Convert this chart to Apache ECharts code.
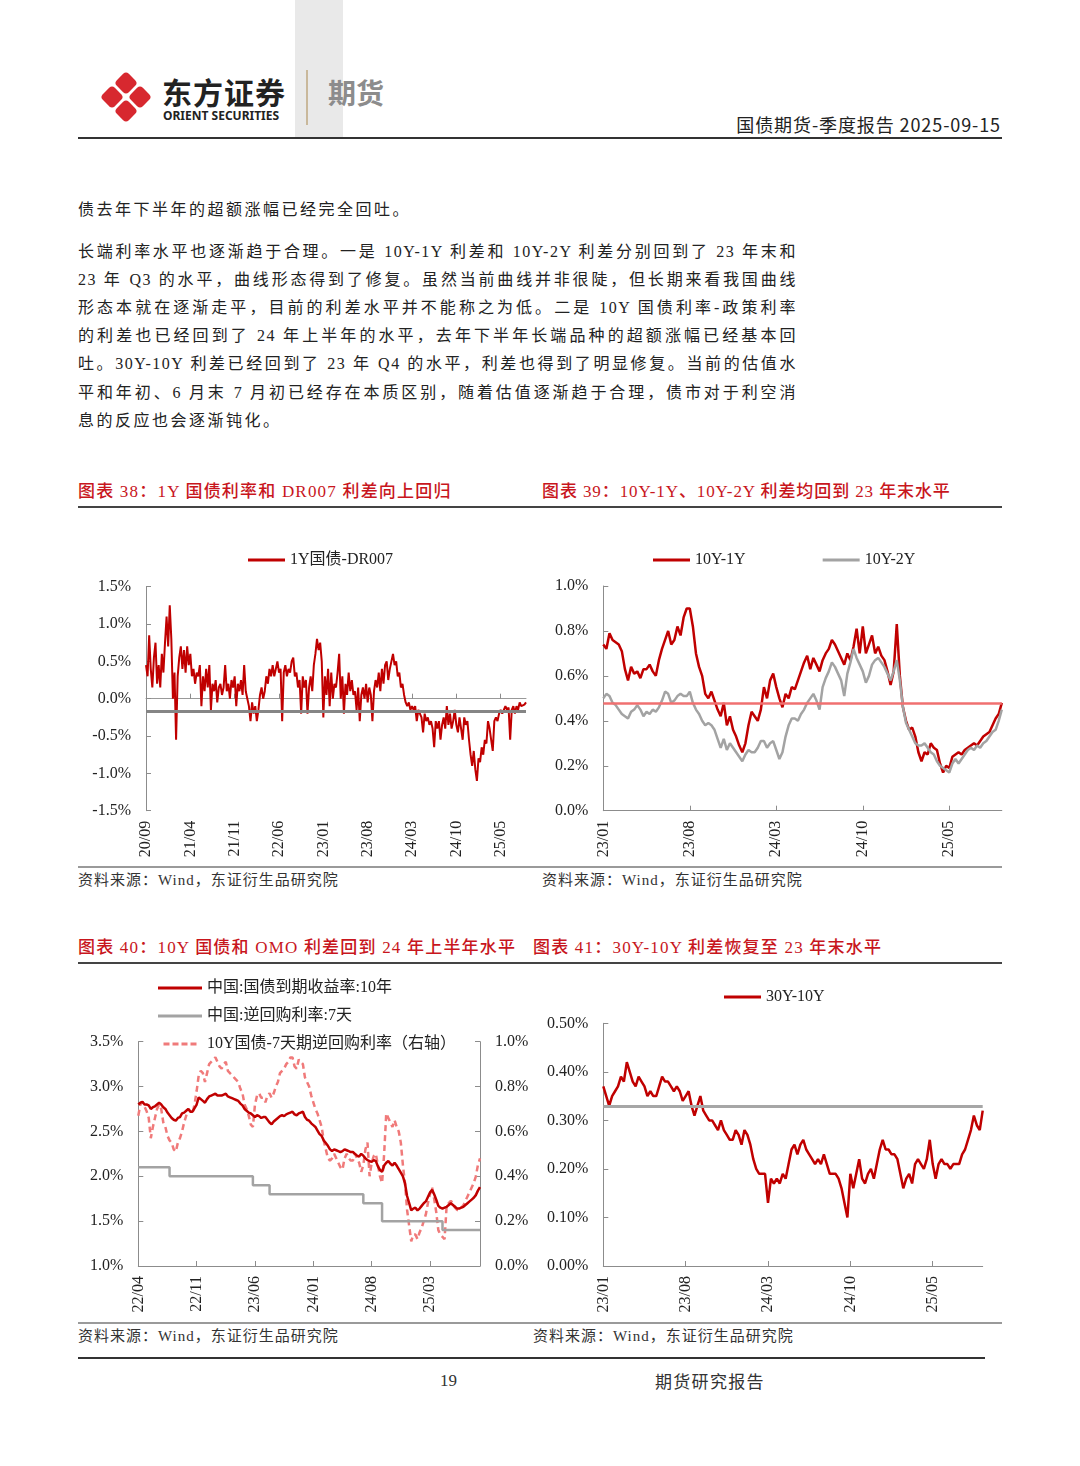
<!DOCTYPE html>
<html><head><meta charset="utf-8">
<script src="https://cdn.jsdelivr.net/npm/echarts@6/dist/echarts.min.js"></script>
<style>
body{margin:0;background:#fff;}
#page{position:relative;width:1080px;height:1466px;overflow:hidden;font-family:"Liberation Serif","Noto Sans CJK SC",serif;color:#222;}
.a{position:absolute;white-space:nowrap;}
.ln{position:absolute;left:78px;width:719px;height:28px;line-height:28px;font-size:16px;letter-spacing:1.5px;text-align:justify;text-align-last:justify;white-space:nowrap;}
.ln.l{text-align:left;text-align-last:left;letter-spacing:2.5px;}
.tt{position:absolute;font-size:17px;line-height:22px;color:#c8161d;font-weight:500;letter-spacing:1.2px;white-space:nowrap;font-family:"Liberation Serif","Noto Sans CJK SC",serif;}
.src{position:absolute;font-size:15px;line-height:20px;color:#333;letter-spacing:1px;white-space:nowrap;}
.hr{position:absolute;}
.ch{position:absolute;}
</style></head>
<body><div id="page">
<div class="a" style="left:295px;top:0;width:48px;height:137px;background:#e9e9e9;"></div>
<svg class="a" style="left:98px;top:69px" width="56" height="56" viewBox="0 0 56 56">
 <g fill="#d7282f">
  <rect x="-8.5" y="-8.5" width="17" height="17" rx="4" transform="translate(28,14) rotate(45)"/>
  <rect x="-8.5" y="-8.5" width="17" height="17" rx="4" transform="translate(14,28) rotate(45)"/>
  <rect x="-8.5" y="-8.5" width="17" height="17" rx="4" transform="translate(42,28) rotate(45)"/>
  <rect x="-8.5" y="-8.5" width="17" height="17" rx="4" transform="translate(28,42) rotate(45)"/>
 </g>
</svg>
<div class="a" style="left:162px;top:72px;font-family:'Noto Sans CJK SC';font-weight:700;font-size:30px;line-height:38px;color:#222;letter-spacing:1px;">东方证券</div>
<div class="a" style="left:163px;top:108px;font-family:'Noto Sans';font-weight:700;font-size:12px;line-height:16px;color:#222;">ORIENT SECURITIES</div>
<div class="a" style="left:306px;top:70px;width:1.5px;height:55px;background:#c9b89b;"></div>
<div class="a" style="left:328px;top:74px;font-family:'Noto Sans CJK SC';font-weight:700;font-size:28px;line-height:36px;color:#8c8c8c;">期货</div>
<div class="a" style="right:79px;top:112px;font-family:'Noto Sans CJK SC';font-size:18px;line-height:24px;color:#222;letter-spacing:0.9px;">国债期货-季度报告 2025-09-15</div>
<div class="hr" style="left:78px;top:137px;width:924px;height:2px;background:#333;"></div>

<div class="ln l" style="top:196px;">债去年下半年的超额涨幅已经完全回吐。</div>
<div class="ln" style="top:238px;">长端利率水平也逐渐趋于合理。一是 10Y-1Y 利差和 10Y-2Y 利差分别回到了 23 年末和</div>
<div class="ln" style="top:266px;">23 年 Q3 的水平，曲线形态得到了修复。虽然当前曲线并非很陡，但长期来看我国曲线</div>
<div class="ln" style="top:294px;">形态本就在逐渐走平，目前的利差水平并不能称之为低。二是 10Y 国债利率-政策利率</div>
<div class="ln" style="top:322px;">的利差也已经回到了 24 年上半年的水平，去年下半年长端品种的超额涨幅已经基本回</div>
<div class="ln" style="top:350px;">吐。30Y-10Y 利差已经回到了 23 年 Q4 的水平，利差也得到了明显修复。当前的估值水</div>
<div class="ln" style="top:379px;">平和年初、6 月末 7 月初已经存在本质区别，随着估值逐渐趋于合理，债市对于利空消</div>
<div class="ln l" style="top:407px;">息的反应也会逐渐钝化。</div>

<div class="tt" style="left:78px;top:481px;">图表 38：1Y 国债利率和 DR007 利差向上回归</div>
<div class="tt" style="left:542px;top:481px;letter-spacing:0.9px;">图表 39：10Y-1Y、10Y-2Y 利差均回到 23 年末水平</div>
<div class="hr" style="left:78px;top:506px;width:924px;height:1.5px;background:#444;"></div>
<div class="hr" style="left:78px;top:866px;width:924px;height:2px;background:#9a9a9a;"></div>
<div class="src" style="left:78px;top:870px;">资料来源：Wind，东证衍生品研究院</div>
<div class="src" style="left:542px;top:870px;">资料来源：Wind，东证衍生品研究院</div>

<div class="tt" style="left:78px;top:937px;">图表 40：10Y 国债和 OMO 利差回到 24 年上半年水平</div>
<div class="tt" style="left:533px;top:937px;">图表 41：30Y-10Y 利差恢复至 23 年末水平</div>
<div class="hr" style="left:78px;top:962px;width:924px;height:1.5px;background:#444;"></div>
<div class="hr" style="left:78px;top:1322px;width:924px;height:2px;background:#9a9a9a;"></div>
<div class="src" style="left:78px;top:1326px;">资料来源：Wind，东证衍生品研究院</div>
<div class="src" style="left:533px;top:1326px;">资料来源：Wind，东证衍生品研究院</div>

<div class="hr" style="left:78px;top:1357px;width:907px;height:1.5px;background:#333;"></div>
<div class="a" style="left:440px;top:1370px;font-size:17px;line-height:22px;color:#333;">19</div>
<div class="a" style="left:655px;top:1370px;font-size:17px;line-height:22px;color:#333;letter-spacing:1.3px;font-family:'Noto Sans CJK SC';">期货研究报告</div>

<div id="c38" class="ch" style="left:75px;top:540px;width:470px;height:330px;"></div>
<div id="c39" class="ch" style="left:540px;top:540px;width:470px;height:330px;"></div>
<div id="c40" class="ch" style="left:75px;top:970px;width:470px;height:352px;"></div>
<div id="c41" class="ch" style="left:530px;top:970px;width:480px;height:352px;"></div>
</div>
<script>
// ---------- data ----------
const s38 = [0.45,0.30,0.85,0.40,0.15,0.55,0.75,0.20,0.45,0.15,
0.60,0.35,0.75,1.10,0.70,1.25,0.80,0.00,0.35,-0.55,
0.30,0.55,0.70,0.40,0.65,0.35,0.70,0.45,0.60,0.30,
0.40,0.20,0.35,0.30,0.45,-0.10,0.30,0.10,0.40,0.15,
0.45,-0.15,0.20,0.10,0.25,-0.05,0.15,0.20,0.05,0.15,
0.45,0.10,0.20,0.00,0.25,0.15,0.30,-0.10,0.20,0.10,
0.25,0.05,0.45,0.10,0.00,-0.10,-0.30,-0.05,-0.20,-0.10,
-0.30,-0.15,0.05,0.15,0.00,0.10,0.30,0.20,0.40,0.30,
0.45,0.30,0.40,0.50,0.35,0.40,-0.30,0.35,0.45,0.30,
0.40,0.35,0.50,0.55,0.30,0.35,0.15,0.25,-0.20,0.30,
0.15,0.25,-0.20,0.15,0.30,0.10,0.45,0.60,0.80,0.65,
0.75,0.50,-0.25,0.30,0.05,0.40,-0.10,0.35,0.00,0.20,
0.15,0.35,0.60,0.00,0.30,-0.20,0.20,0.05,0.35,0.10,
0.25,0.05,0.10,-0.15,0.15,-0.30,0.05,0.15,0.00,0.20,
-0.05,0.15,0.05,-0.30,0.10,0.25,0.15,0.35,0.10,0.40,
0.20,0.45,0.50,0.25,0.40,0.50,0.60,0.45,0.50,0.30,
0.35,0.15,0.20,0.05,-0.05,-0.10,-0.05,-0.15,-0.10,-0.15,
-0.10,-0.30,-0.15,-0.20,-0.25,-0.45,-0.20,-0.30,-0.25,-0.35,
-0.30,-0.40,-0.65,-0.30,-0.40,-0.30,-0.55,-0.35,-0.25,-0.40,
-0.10,-0.35,-0.20,-0.40,-0.30,-0.15,-0.35,-0.45,-0.25,-0.40,
-0.55,-0.25,-0.35,-0.30,-0.55,-0.75,-0.90,-0.70,-0.95,-1.10,
-0.80,-0.85,-0.65,-0.75,-0.55,-0.60,-0.30,-0.40,-0.55,-0.70,
-0.30,-0.25,-0.30,-0.20,-0.15,-0.20,-0.15,-0.10,-0.15,-0.12,
-0.55,-0.15,-0.10,-0.20,-0.10,-0.15,-0.05,-0.10,-0.12,-0.08,
-0.05];
const ref38 = -0.17;

const s39a = [0.74,0.72,0.79,0.76,0.75,0.74,0.71,0.63,0.58,0.64,
0.61,0.62,0.59,0.63,0.63,0.65,0.62,0.60,0.67,0.72,
0.76,0.80,0.74,0.76,0.82,0.78,0.86,0.90,0.90,0.82,
0.70,0.64,0.60,0.52,0.50,0.53,0.49,0.45,0.42,0.48,
0.38,0.42,0.36,0.33,0.29,0.26,0.30,0.38,0.44,0.42,
0.40,0.45,0.55,0.50,0.58,0.61,0.55,0.50,0.46,0.52,
0.50,0.55,0.54,0.58,0.62,0.66,0.69,0.63,0.68,0.65,
0.62,0.67,0.70,0.72,0.76,0.74,0.71,0.68,0.65,0.70,
0.67,0.73,0.81,0.70,0.82,0.70,0.74,0.78,0.70,0.73,
0.69,0.67,0.62,0.56,0.62,0.83,0.60,0.46,0.40,0.36,
0.37,0.33,0.26,0.22,0.26,0.25,0.30,0.28,0.27,0.21,
0.17,0.20,0.19,0.24,0.25,0.26,0.25,0.27,0.28,0.29,
0.30,0.29,0.31,0.33,0.34,0.35,0.38,0.41,0.43,0.48];
const s39b = [0.50,0.52,0.51,0.48,0.47,0.45,0.43,0.42,0.41,0.44,
0.45,0.47,0.45,0.42,0.44,0.43,0.45,0.44,0.46,0.49,
0.53,0.52,0.48,0.49,0.51,0.52,0.51,0.51,0.53,0.48,
0.45,0.43,0.40,0.38,0.39,0.38,0.36,0.32,0.28,0.32,
0.27,0.30,0.28,0.26,0.24,0.22,0.25,0.27,0.26,0.26,
0.28,0.31,0.31,0.28,0.30,0.31,0.27,0.23,0.26,0.33,
0.38,0.41,0.41,0.40,0.43,0.45,0.48,0.50,0.52,0.49,
0.45,0.55,0.59,0.62,0.66,0.64,0.61,0.58,0.51,0.61,
0.66,0.72,0.68,0.65,0.62,0.57,0.60,0.65,0.67,0.68,
0.66,0.64,0.61,0.58,0.62,0.67,0.58,0.46,0.39,0.36,
0.33,0.30,0.29,0.29,0.30,0.28,0.26,0.25,0.22,0.20,
0.19,0.18,0.17,0.21,0.23,0.21,0.23,0.25,0.27,0.28,
0.27,0.29,0.28,0.30,0.31,0.33,0.35,0.36,0.40,0.45];
const ref39 = 0.48;

const s40y = [2.80,2.82,2.83,2.80,2.80,2.79,2.75,2.77,2.78,2.80,
2.82,2.80,2.77,2.75,2.71,2.68,2.65,2.63,2.62,2.65,
2.66,2.70,2.71,2.73,2.75,2.72,2.72,2.76,2.80,2.88,
2.86,2.84,2.82,2.86,2.89,2.90,2.91,2.92,2.90,2.90,
2.90,2.91,2.92,2.89,2.88,2.87,2.86,2.85,2.84,2.81,
2.79,2.75,2.73,2.71,2.70,2.68,2.66,2.68,2.67,2.65,
2.66,2.66,2.63,2.60,2.58,2.61,2.63,2.65,2.67,2.68,
2.67,2.69,2.70,2.71,2.72,2.69,2.68,2.70,2.71,2.72,
2.66,2.63,2.62,2.59,2.57,2.55,2.51,2.47,2.45,2.40,
2.37,2.34,2.30,2.28,2.30,2.29,2.28,2.27,2.28,2.30,
2.29,2.28,2.27,2.27,2.25,2.23,2.22,2.25,2.23,2.20,
2.18,2.17,2.16,2.18,2.17,2.11,2.07,2.05,2.12,2.15,
2.17,2.14,2.12,2.15,2.12,2.08,2.04,2.00,1.92,1.78,
1.70,1.62,1.64,1.65,1.62,1.64,1.67,1.70,1.72,1.77,
1.82,1.85,1.80,1.74,1.67,1.65,1.64,1.65,1.66,1.68,
1.70,1.68,1.66,1.64,1.64,1.65,1.66,1.68,1.70,1.72,
1.74,1.76,1.79,1.84,1.88];
const s40r = [2.10,2.10,2.10,2.10,2.10,2.10,2.10,2.10,2.10,2.10,
2.10,2.10,2.10,2.10,2.10,2.10,2.00,2.00,2.00,2.00,
2.00,2.00,2.00,2.00,2.00,2.00,2.00,2.00,2.00,2.00,
2.00,2.00,2.00,2.00,2.00,2.00,2.00,2.00,2.00,2.00,
2.00,2.00,2.00,2.00,2.00,2.00,2.00,2.00,2.00,2.00,
2.00,2.00,2.00,2.00,2.00,2.00,1.90,1.90,1.90,1.90,
1.90,1.90,1.90,1.90,1.80,1.80,1.80,1.80,1.80,1.80,
1.80,1.80,1.80,1.80,1.80,1.80,1.80,1.80,1.80,1.80,
1.80,1.80,1.80,1.80,1.80,1.80,1.80,1.80,1.80,1.80,
1.80,1.80,1.80,1.80,1.80,1.80,1.80,1.80,1.80,1.80,
1.80,1.80,1.80,1.80,1.80,1.80,1.80,1.80,1.80,1.70,
1.70,1.70,1.70,1.70,1.70,1.70,1.70,1.70,1.50,1.50,
1.50,1.50,1.50,1.50,1.50,1.50,1.50,1.50,1.50,1.50,
1.50,1.50,1.50,1.50,1.50,1.50,1.50,1.50,1.50,1.50,
1.50,1.50,1.50,1.50,1.50,1.50,1.50,1.40,1.40,1.40,
1.40,1.40,1.40,1.40,1.40,1.40,1.40,1.40,1.40,1.40,
1.40,1.40,1.40,1.40,1.40];
const s40s = [0.67,0.72,0.73,0.71,0.69,0.66,0.57,0.62,0.66,0.70,
0.72,0.70,0.64,0.62,0.58,0.56,0.55,0.52,0.51,0.55,
0.57,0.60,0.64,0.67,0.70,0.69,0.68,0.72,0.78,0.85,
0.87,0.86,0.82,0.86,0.90,0.91,0.92,0.93,0.91,0.89,
0.88,0.90,0.91,0.87,0.86,0.85,0.84,0.83,0.82,0.79,
0.77,0.72,0.70,0.67,0.63,0.62,0.72,0.76,0.77,0.75,
0.75,0.73,0.76,0.77,0.75,0.77,0.80,0.82,0.86,0.87,
0.88,0.90,0.91,0.93,0.93,0.89,0.88,0.92,0.91,0.90,
0.84,0.82,0.80,0.76,0.73,0.70,0.68,0.65,0.62,0.56,
0.52,0.48,0.47,0.48,0.50,0.48,0.46,0.44,0.43,0.48,
0.50,0.48,0.47,0.47,0.50,0.48,0.46,0.42,0.45,0.52,
0.55,0.40,0.46,0.49,0.50,0.45,0.40,0.37,0.50,0.68,
0.66,0.64,0.62,0.65,0.62,0.60,0.55,0.45,0.37,0.25,
0.18,0.11,0.14,0.14,0.12,0.15,0.17,0.20,0.23,0.28,
0.32,0.35,0.30,0.24,0.16,0.14,0.13,0.12,0.27,0.28,
0.29,0.28,0.26,0.25,0.25,0.26,0.27,0.29,0.31,0.33,
0.35,0.37,0.40,0.45,0.48];

const s41 = [0.37,0.35,0.33,0.35,0.36,0.37,0.39,0.38,0.42,0.40,
0.38,0.37,0.39,0.38,0.37,0.35,0.36,0.35,0.35,0.37,
0.39,0.38,0.38,0.37,0.36,0.37,0.36,0.34,0.35,0.36,
0.33,0.31,0.33,0.35,0.32,0.31,0.30,0.30,0.29,0.28,
0.30,0.28,0.27,0.26,0.26,0.28,0.27,0.25,0.28,0.27,
0.25,0.22,0.20,0.19,0.19,0.19,0.13,0.18,0.17,0.18,
0.17,0.19,0.18,0.21,0.24,0.25,0.23,0.25,0.26,0.24,
0.23,0.22,0.21,0.22,0.21,0.23,0.21,0.19,0.19,0.19,
0.18,0.16,0.13,0.10,0.19,0.16,0.19,0.22,0.18,0.17,
0.19,0.20,0.18,0.21,0.24,0.26,0.24,0.24,0.23,0.23,
0.22,0.19,0.16,0.18,0.19,0.17,0.21,0.22,0.21,0.20,
0.22,0.26,0.21,0.18,0.21,0.22,0.21,0.21,0.20,0.21,
0.21,0.21,0.23,0.24,0.26,0.28,0.31,0.29,0.28,0.32];
const ref41 = 0.33;

// categories: four observations per month, labelled YY/MM
function monthCats(y, m, n){
  const out = [];
  for (let k = 0; k < n; k++){
    const mm = m - 1 + Math.floor(k / 4);
    const yy = y + Math.floor(mm / 12), mo = mm % 12 + 1;
    out.push(String(yy).padStart(2,'0') + '/' + String(mo).padStart(2,'0') + '#' + (k % 4 + 1));
  }
  return out;
}
const cats38 = monthCats(20, 9, 241);   // 20/09 .. 25/09
const cats39 = monthCats(23, 1, 130);   // 23/01 .. 25/09
const cats40 = monthCats(22, 4, 165);   // 22/04 .. 25/09
const cats41 = monthCats(23, 1, 130);
const LABEL_STEP = 28;                  // one label every 7 months

// ---------- styles ----------
const RED = '#c00000', GRAY = '#a3a3a3', PINK = '#f07a7a';
const FONT = 'Liberation Serif, Noto Sans CJK SC, serif';
const lblStyle = {color:'#222', fontFamily:FONT, fontSize:16};
const axLine = {show:true, onZero:false, lineStyle:{color:'#8c8c8c', width:1}};
const every = (i) => i % LABEL_STEP === 0;
const DASH_ICON = 'path://M0,0h8v4h-8zM12,0h8v4h-8zM24,0h8v4h-8zM36,0h8v4h-8z';
function xCat(data, extra){
  return Object.assign({
    type:'category', data:data, boundaryGap:false,
    axisLine:axLine,
    axisTick:{show:true, inside:true, length:5, interval:every, lineStyle:{color:'#8c8c8c'}},
    axisLabel:Object.assign({rotate:90, margin:10, interval:every, formatter:v => v.slice(0,5)}, lblStyle),
    splitLine:{show:false}
  }, extra || {});
}
function yVal(min, max, step, dec, extra){
  return Object.assign({
    type:'value', min:min, max:max, interval:step,
    axisLine:{show:true, lineStyle:{color:'#8c8c8c', width:1}},
    axisTick:{show:true, inside:true, length:5, lineStyle:{color:'#8c8c8c'}},
    axisLabel:Object.assign({margin:15, formatter:v => v.toFixed(dec) + '%'}, lblStyle),
    splitLine:{show:false}
  }, extra || {});
}
const legendText = {fontSize:16, color:'#222', fontFamily:FONT};
function refLine(v, color, w){
  return {silent:true, symbol:'none', label:{show:false}, animation:false,
          lineStyle:{color:color, width:w, type:'solid'}, data:[{yAxis:v}]};
}
function lg(extra){
  return Object.assign({itemWidth:37, itemHeight:3, icon:'rect', textStyle:legendText}, extra);
}

// ---------- chart 38 ----------
echarts.init(document.getElementById('c38')).setOption({
  animation:false,
  legend:lg({left:168, top:7, data:['1Y国债-DR007']}),
  grid:{left:71, top:46.7, width:380, height:224},
  xAxis:[
    xCat(cats38, {axisLine:{show:false, onZero:false}, axisTick:{show:false}}),
    xCat(cats38, {position:'bottom', axisLine:{show:true, onZero:true, lineStyle:{color:'#999', width:1}}, axisLabel:{show:false}})
  ],
  yAxis:yVal(-1.5, 1.5, 0.5, 1),
  series:[{name:'1Y国债-DR007', type:'line', data:s38, xAxisIndex:0, symbol:'none',
           lineStyle:{color:RED, width:2}, itemStyle:{color:RED},
           markLine:refLine(ref38, '#858585', 3)}]
});

// ---------- chart 39 ----------
echarts.init(document.getElementById('c39')).setOption({
  animation:false,
  legend:lg({left:108, top:7, itemGap:77, data:['10Y-1Y','10Y-2Y']}),
  grid:{left:63.3, top:46, width:398.5, height:224.7},
  xAxis:xCat(cats39),
  yAxis:yVal(0, 1.0, 0.2, 1),
  series:[
    {name:'10Y-1Y', type:'line', data:s39a, symbol:'none', lineStyle:{color:RED, width:2.5}, itemStyle:{color:RED}},
    {name:'10Y-2Y', type:'line', data:s39b, symbol:'none', lineStyle:{color:GRAY, width:2.5}, itemStyle:{color:GRAY},
     markLine:refLine(ref39, '#f07070', 2.5)}
  ]
});

// ---------- chart 40 ----------
echarts.init(document.getElementById('c40')).setOption({
  animation:false,
  legend:lg({orient:'vertical', left:78, top:5, itemWidth:44, itemGap:12,
          data:[{name:'中国:国债到期收益率:10年'},{name:'中国:逆回购利率:7天'},
                {name:'10Y国债-7天期逆回购利率（右轴）', icon:DASH_ICON}]}),
  grid:{left:63.3, top:71.7, width:341.7, height:224.3},
  xAxis:xCat(cats40),
  yAxis:[
    yVal(1.0, 3.5, 0.5, 1),
    yVal(0, 1.0, 0.2, 1, {position:'right'})
  ],
  series:[
    {name:'10Y国债-7天期逆回购利率（右轴）', type:'line', data:s40s, yAxisIndex:1, symbol:'none',
     lineStyle:{color:PINK, width:2.5, type:[6,4]}, itemStyle:{color:PINK}},
    {name:'中国:逆回购利率:7天', type:'line', data:s40r, step:'start', symbol:'none',
     lineStyle:{color:GRAY, width:2.5}, itemStyle:{color:GRAY}},
    {name:'中国:国债到期收益率:10年', type:'line', data:s40y, symbol:'none',
     lineStyle:{color:RED, width:2.5}, itemStyle:{color:RED}}
  ]
});

// ---------- chart 41 ----------
echarts.init(document.getElementById('c41')).setOption({
  animation:false,
  legend:lg({left:189, top:14, data:['30Y-10Y']}),
  grid:{left:73.3, top:53.3, width:379.4, height:242.7},
  xAxis:xCat(cats41),
  yAxis:yVal(0, 0.5, 0.1, 2),
  series:[{name:'30Y-10Y', type:'line', data:s41, symbol:'none', lineStyle:{color:RED, width:2.5}, itemStyle:{color:RED},
           markLine:refLine(ref41, '#a6a6a6', 3)}]
});
</script>
</body></html>
